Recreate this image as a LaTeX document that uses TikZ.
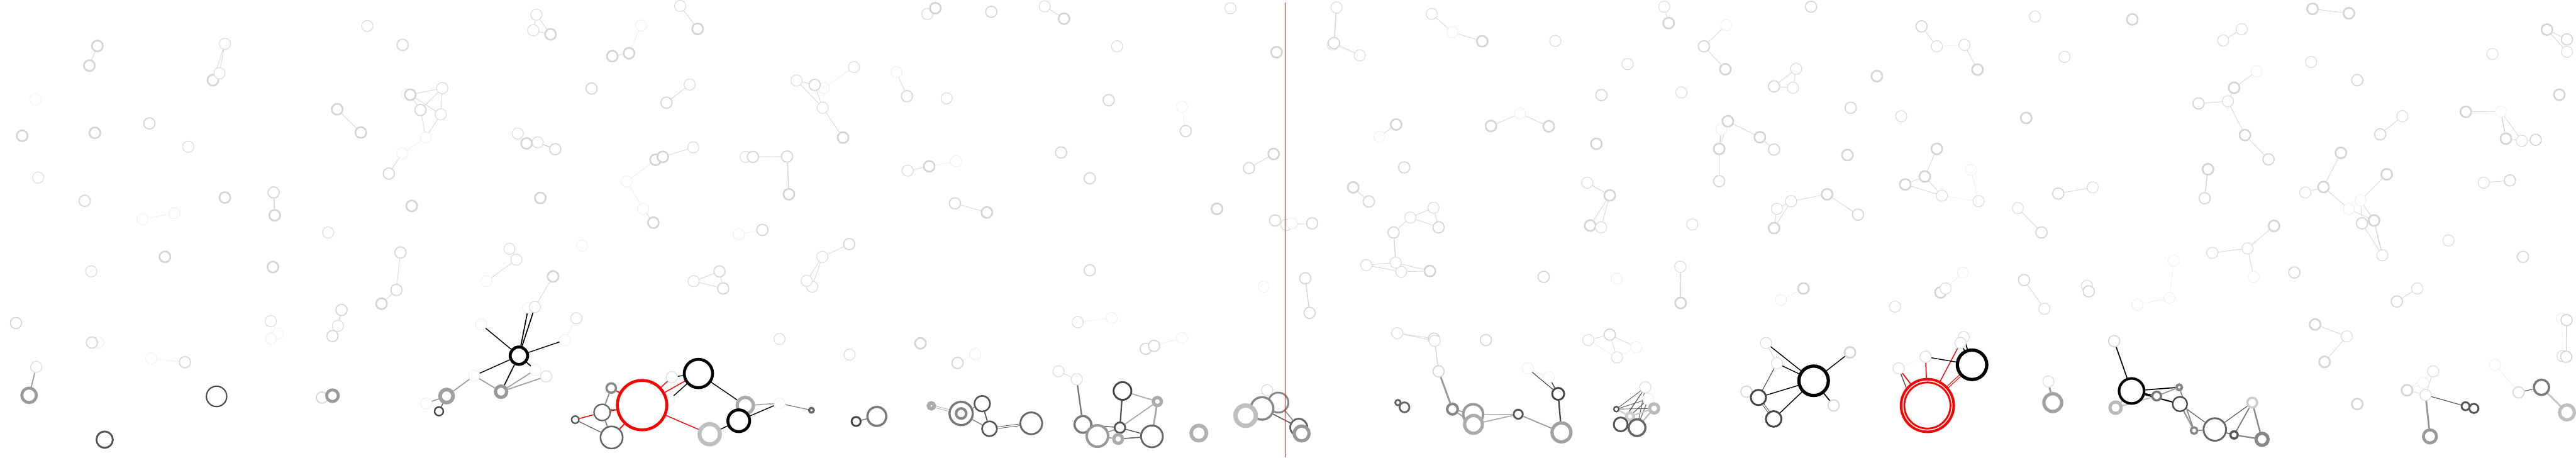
\documentclass[tikz,border=0pt]{standalone}
\pgfdeclarelayer{back}
\pgfdeclarelayer{bg}
\pgfsetlayers{back,bg,main}
\tikzset{
 nd/.style={circle,fill=white,inner sep=0pt,minimum size=31pt},
 vf/.style={nd,draw=black!8,line width=1.3pt},
 lt/.style={nd,draw=black!14,line width=2pt},
 lm/.style={nd,draw=black!16,line width=3pt},
 lk/.style={nd,draw=black!17,line width=4.5pt,minimum size=30pt},
 rg/.style n args={3}{circle,fill=white,inner sep=0pt,draw=#1,line width=#2pt,minimum size=#3pt},
 ef/.style={draw=black!9,line width=1pt},
 el/.style={draw=black!16,line width=1.5pt},
 em/.style={draw=black!17,line width=2.5pt},
 ec/.style 2 args={draw=#1,line width=#2pt},
 dbl/.style 2 args={draw=#1,line width=#2pt,double=white,double distance=3pt},
}
\begin{document}
\begin{tikzpicture}[x=1pt,y=-1pt]
\begin{pgfonlayer}{back}
\useasboundingbox[fill=white] (0,0) rectangle (7072,1251);
\end{pgfonlayer}
% ---- zone 1
\node[lk] (a1) at (268,120) {};
\node[lk] (a2) at (246,174) {};
\node[lk] (a3) at (586,214) {};
\node[vf] (a4) at (98,267) {};
\node[lk] (a5) at (61,367) {};
\node[lk] (a6) at (261,359) {};
\node[lm] (a7) at (411,333) {};
\node[lt] (a8) at (518,397) {};
\node[lt] (a9) at (105,482) {};
\node[lm] (a10) at (233,546) {};
\node[vf] (a11) at (392,597) {};
\node[vf] (a12) at (480,580) {};
\node[lk] (a13) at (454,700) {};
\node[lt] (a14) at (251,740) {};
\node[lm] (a15) at (44,882) {};
\node[vf] (a17) at (270,936) {};
\node[lm] (a16) at (253,936) {};
\node[vf] (a18) at (416,980) {};
\node[lm] (a19) at (509,990) {};
\node[lt] (a20) at (100,1003) {};
\node[rg={black!40}{8}{40}] (B1) at (80,1081) {};
\node[rg={black!73}{3.5}{56}] (B2) at (596,1084) {};
\node[rg={black!67}{5}{45}] (B3) at (288,1203) {};
% ---- zone 2
\node[lt] (b1) at (619,114) {};
\node[lt] (b2) at (604,195) {};
\node[lt] (b3) at (1011,65) {};
\node[lm] (b4) at (1108,117) {};
\node[lk] (b5) at (928,294) {};
\node[lk] (b6) at (993,358) {};
\node[vf] (c1) at (1120,253) {};
\node[lk] (c2) at (1129,254) {};
\node[lm] (c3) at (1157,296) {};
\node[vf] (c4) at (1172,372) {};
\node[vf] (c5) at (1107,415) {};
\node[lm] (c6) at (1070,471) {};
\node[lt] (c7) at (1217,236) {};
\node[lt] (c8) at (1213,308) {};
\node[lk] (b7) at (619,537) {};
\node[lm] (b8) at (753,523) {};
\node[lk] (b9) at (756,586) {};
\node[lt] (b10) at (903,633) {};
\node[lk] (b11) at (1133,560) {};
\node[lk] (b12) at (751,728) {};
\node[lm] (b13) at (1102,688) {};
\node[lm] (b14) at (1091,791) {};
\node[lk] (b15) at (1050,829) {};
\node[lt] (b16) at (745,877) {};
\node[vf] (b17) at (765,911) {};
\node[vf] (b18) at (746,925) {};
\node[lm] (b19) at (940,846) {};
\node[lt] (b20) at (930,890) {};
\node[lm] (b21) at (915,918) {};
\node[lm] (b22) at (886,1087) {};
\node[rg={black!40}{8}{32}] (B4) at (915,1082) {};
% ---- zone 3
\node[lt] (d1) at (1476,34) {};
\node[lt] (d2) at (1468,77) {};
\node[lk] (d3) at (1515,88) {};
\node[vf] (d4) at (1764,64) {};
\node[lk] (d5) at (1731,140) {};
\node[lk] (d6) at (1685,148) {};
\node[lm] (d7) at (1628,237) {};
\node[lt] (d8) at (1425,361) {};
\node[lt] (d10) at (1480,385) {};
\node[lk] (d9) at (1449,388) {};
\node[lm] (d11) at (1528,404) {};
\node[lk] (d12) at (1487,538) {};
\node[vf] (d13) at (1725,493) {};
\node[vf] (d14) at (1770,568) {};
\node[lk] (d15) at (1798,606) {};
\node[lt] (d16) at (1402,678) {};
\node[lt] (d17) at (1421,708) {};
\node[vf] (d18) at (1339,767) {};
\node[vf] (d19) at (1602,669) {};
\node[vf] (B8) at (1305,1027) {};
\node[vf] (B9) at (1473,1011) {};
\node[lt] (B10) at (1503,1029) {};
\node[vf] (B11) at (1555,929) {};
\node[lt] (B12) at (1586,869) {};
\node[vf] (B13) at (1324,886) {};
\node[vf] (B14) at (1454,840) {};
\node[lt] (B15) at (1472,838) {};
\node[lk] (B16) at (1522,754) {};
\node[vf] (B17) at (1173,1103) {};
\node[rg={black}{8}{48}] (S) at (1428,972) {};
\node[rg={black!38}{10}{36}] (B5) at (1229,1083) {};
\node[rg={black!40}{9}{31}] (B6) at (1379,1071) {};
\node[rg={black!73}{4}{24}] (B7) at (1208,1125) {};
% red cluster
\node[rg={black!67}{4}{20}] (R1) at (1583,1148) {};
\node[rg={black!60}{4}{45}] (R2) at (1657,1128) {};
\node[rg={black!47}{6}{26}] (R3) at (1682,1061) {};
\node[rg={black!60}{4.5}{61}] (R4) at (1683,1197) {};
\node[vf] (R6) at (1842,1093) {};
\node[rg={red}{8}{136}] (RED) at (1767,1108) {};
\node[lt] (R5) at (1849,1031) {};
\node[rg={black}{8}{78}] (BK1) at (1922,1021) {};
\node[rg={black!25}{11}{56}] (R7) at (1953,1188) {};
\node[rg={black!33}{9}{45}] (R8) at (2051,1109) {};
\node[rg={black}{8}{60}] (BK2) at (2033,1151) {};
\node[vf] (R9) at (2145,1103) {};
\node[rg={black!60}{6}{13}] (R10) at (2233,1122) {};
\node[rg={black!73}{5}{25}] (R11) at (2356,1153) {};
\node[rg={black!53}{6}{52}] (R12) at (2413,1139) {};
% ---- zone 4
\node[lk] (e1) at (1804,433) {};
\node[lk] (e2) at (1824,425) {};
\node[lt] (e3) at (1908,399) {};
\node[lt] (e4) at (1872,10) {};
\node[lk] (e5) at (1920,73) {};
\node[lt] (e6) at (1898,226) {};
\node[lm] (e7) at (1834,276) {};
\node[lt] (e8) at (2192,215) {};
\node[vf] (e10) at (2267,236) {};
\node[lm] (e9) at (2242,227) {};
\node[lt] (e11) at (2264,290) {};
\node[lk] (e12) at (2320,372) {};
\node[lt] (e13) at (2350,178) {};
\node[lt] (e14) at (2052,425) {};
\node[lm] (e15) at (2072,425) {};
\node[lm] (e16) at (2166,424) {};
\node[lk] (e17) at (2171,528) {};
\node[vf] (e18) at (2033,638) {};
\node[lm] (e19) at (2098,626) {};
\node[lt] (e20) at (1909,767) {};
\node[lm] (e21) at (1980,740) {};
\node[lm] (e22) at (1990,787) {};
\node[lt] (e23) at (2263,700) {};
\node[lm] (e24) at (2337,665) {};
\node[lt] (e26) at (2235,782) {};
\node[lt] (e25) at (2220,766) {};
\node[lt] (e27) at (2145,926) {};
\node[lt] (e28) at (2338,969) {};
% ---- zone 5
\node[lt] (f1) at (2552,32) {};
\node[lk] (f2) at (2574,16) {};
\node[lm] (f3) at (2728,26) {};
\node[lt] (f4) at (2875,11) {};
\node[lk] (f5) at (2928,45) {};
\node[vf] (f6) at (2467,192) {};
\node[lm] (f7) at (2496,258) {};
\node[lt] (f8) at (2605,264) {};
\node[lm] (f9) at (2920,413) {};
\node[lt] (f10) at (2498,463) {};
\node[lk] (f11) at (2557,451) {};
\node[vf] (f12) at (2631,437) {};
\node[lm] (f13) at (2628,553) {};
\node[lk] (f14) at (2716,578) {};
\node[lk] (f15) at (2533,938) {};
\node[lm] (f16) at (2635,992) {};
\node[vf] (f17) at (2684,968) {};
\node[lt] (f18) at (2913,1015) {};
\node[rg={black!33}{10}{16}] (C1) at (2563,1110) {};
\node[rg={black!53}{6}{64}] (C2) at (2645,1131) {};
\node[rg={black!47}{7}{28}] (C2b) at (2645,1131) {};
\node[rg={black!67}{4.5}{43}] (C3) at (2703,1104) {};
\node[rg={black!67}{4.5}{41}] (C4) at (2723,1173) {};
\node[rg={black!60}{5}{60}] (C5) at (2838,1158) {};
% ---- zone 6
\node[lt] (g1) at (3386,16) {};
\node[lt] (g2) at (3074,121) {};
\node[lk] (g3) at (3513,137) {};
\node[lm] (g4) at (3051,269) {};
\node[vf] (g5) at (3253,287) {};
\node[lm] (g6) at (3263,354) {};
\node[lk] (g7) at (3505,417) {};
\node[lm] (g8) at (3437,456) {};
\node[lm] (g9) at (2999,484) {};
\node[lk] (g10) at (3349,568) {};
\node[lm] (g11) at (3509,600) {};
\node[lt] (g12) at (3540,612) {};
\node[vf] (g13) at (3555,608) {};
\node[lm] (g14) at (3611,608) {};
\node[lm] (g15) at (2999,737) {};
\node[vf] (g16) at (3477,782) {};
\node[lt] (g17) at (2966,880) {};
\node[vf] (g18) at (3059,868) {};
\node[lm] (g19) at (3153,953) {};
\node[lm] (g20) at (3176,945) {};
\node[vf] (g21) at (3253,923) {};
\node[lt] (D1) at (2963,1037) {};
\node[rg={black!53}{6}{46}] (D2) at (2980,1161) {};
\node[rg={black!73}{5}{49}] (D3) at (3089,1069) {};
\node[rg={black!33}{9}{22}] (D4) at (3185,1098) {};
\node[rg={black!67}{5}{29}] (D5) at (3082,1170) {};
\node[rg={black!40}{7}{59}] (D6) at (3020,1193) {};
\node[rg={black!33}{9}{24}] (D7) at (3077,1201) {};
\node[rg={black!60}{5}{60}] (D8) at (3170,1194) {};
\node[rg={black!31}{10}{42}] (D9) at (3299,1185) {};
\node[lt] (D13) at (3487,1067) {};
\node[rg={black!47}{5}{55}] (D12) at (3518,1101) {};
\node[rg={black!47}{6}{62}] (D11) at (3473,1117) {};
\node[rg={black!25}{12}{56}] (D10) at (3428,1137) {};
\node[rg={black!60}{5}{47}] (D14) at (3574,1169) {};
\node[rg={black!40}{9}{41}] (D15) at (3582,1186) {};
% ---- zone 7
\node[lt] (h1) at (3678,14) {};
\node[lt] (h2) at (3668,116) {};
\node[lm] (h3) at (3671,112) {};
\node[lt] (h4) at (3742,146) {};
\node[lt] (h5) at (3940,32) {};
\node[vf] (h6) at (3997,82) {};
\node[lk] (h7) at (4079,107) {};
\node[lk] (h8) at (3842,336) {};
\node[vf] (h9) at (3796,369) {};
\node[lk] (h10) at (4103,340) {};
\node[vf] (h11) at (4183,306) {};
\node[lk] (h12) at (4262,341) {};
\node[lm] (h13) at (3864,454) {};
\node[lk] (h14) at (3724,509) {};
\node[lm] (h15) at (3767,548) {};
\node[lt] (h16) at (3945,565) {};
\node[lt] (h17) at (3881,592) {};
\node[lm] (h18) at (3959,619) {};
\node[lm] (h19) at (3835,633) {};
\node[lt] (h22) at (3856,741) {};
\node[lt] (h20) at (3841,716) {};
\node[lt] (h21) at (3760,723) {};
\node[lk] (h23) at (3935,739) {};
\node[lm] (h24) at (3592,759) {};
\node[lm] (h25) at (3604,854) {};
\node[lt] (h26) at (3845,910) {};
\node[lm] (h27) at (3946,925) {};
\node[lt] (h28) at (3948,931) {};
\node[lm] (h29) at (4089,929) {};
\node[lm] (E3) at (3959,1015) {};
\node[rg={black!60}{5}{15}] (E1) at (3847,1101) {};
\node[rg={black!60}{5}{27}] (E2) at (3865,1114) {};
\node[rg={black!47}{7}{29}] (E4) at (3997,1119) {};
\node[rg={black!40}{7}{55}] (E5) at (4054,1133) {};
\node[rg={black!33}{9}{49}] (E6) at (4055,1161) {};
\node[rg={black!67}{5}{25}] (E7) at (4178,1133) {};
\node[vf] (E10) at (4204,1007) {};
\node[vf] (E11) at (4262,1031) {};
\node[rg={black!73}{5}{33}] (E8) at (4288,1077) {};
\node[rg={black!37}{9}{52}] (E9) at (4297,1183) {};
% ---- zone 8
\node[lt] (i1) at (4580,12) {};
\node[lk] (i2) at (4592,57) {};
\node[lm] (i3) at (4689,121) {};
\node[lt] (i4) at (4280,106) {};
\node[lt] (i5) at (4479,170) {};
\node[lm] (i6) at (4407,255) {};
\node[lt] (i7) at (4627,248) {};
\node[lk] (i8) at (4393,389) {};
\node[lt] (i9) at (4368,496) {};
\node[lk] (i10) at (4430,531) {};
\node[lk] (i11) at (4376,614) {};
\node[lt] (i12) at (4406,619) {};
\node[lt] (i13) at (4657,611) {};
\node[lm] (i14) at (4248,755) {};
\node[vf] (i15) at (4449,760) {};
\node[lt] (i16) at (4624,727) {};
\node[lk] (i17) at (4625,827) {};
\node[lt] (i18) at (4371,929) {};
\node[lm] (i19) at (4430,914) {};
\node[vf] (i20) at (4503,949) {};
\node[lt] (i21) at (4450,977) {};
\node[lt] (F1) at (4528,1059) {};
\node[vf] (F2) at (4536,1091) {};
\node[rg={black!27}{9}{25}] (F3) at (4552,1117) {};
\node[rg={black!67}{4}{14}] (F4) at (4448,1119) {};
\node[rg={black!20}{8}{20}] (F5) at (4486,1139) {};
\node[rg={black!67}{5}{38}] (F6) at (4460,1161) {};
\node[rg={black!60}{6}{46}] (F7) at (4505,1170) {};
% ---- zone 9
\node[vf] (j1) at (4750,63) {};
\node[lk] (j2) at (4748,184) {};
\node[lm] (j3) at (4984,12) {};
\node[lm] (j4) at (5288,66) {};
\node[lt] (j5) at (4943,183) {};
\node[lm] (j6) at (4882,231) {};
\node[lt] (j7) at (4934,235) {};
\node[lk] (j8) at (5165,203) {};
\node[lm] (j9) at (5093,290) {};
\node[lt] (j10) at (5232,313) {};
\node[lk] (j11) at (5084,420) {};
\node[vf] (j12) at (4737,349) {};
\node[lk] (j13) at (4755,327) {};
\node[lk] (j14) at (4731,403) {};
\node[lm] (j15) at (4731,492) {};
\node[lk] (j16) at (4843,371) {};
\node[lm] (j17) at (4882,405) {};
\node[lk] (j18) at (5297,479) {};
\node[lk] (j19) at (5243,501) {};
\node[lt] (j20) at (4929,547) {};
\node[lt] (j21) at (4890,568) {};
\node[lk] (j22) at (4882,621) {};
\node[lk] (j23) at (5028,528) {};
\node[lm] (j24) at (5113,584) {};
\node[lk] (j25) at (4963,787) {};
\node[vf] (j26) at (4901,819) {};
\node[lt] (j27) at (5215,837) {};
\node[lt] (k1) at (5330,121) {};
\node[lt] (k2) at (5406,117) {};
\node[lk] (k3) at (5442,185) {};
\node[lk] (k4) at (5330,403) {};
\node[lt] (k5) at (5344,532) {};
\node[vf] (k6) at (5424,461) {};
\node[lt] (k7) at (5445,547) {};
\node[lt] (G1) at (4860,937) {};
\node[lt] (G2) at (4890,993) {};
\node[lm] (G3) at (4806,1071) {};
\node[rg={black!73}{5}{42}] (G4) at (4839,1087) {};
\node[rg={black!73}{5}{43}] (G5) at (4881,1146) {};
\node[lk] (G6) at (5091,963) {};
\node[lm] (G7) at (5046,1109) {};
\node[rg={black}{9}{81}] (G0) at (4991,1041) {};
\node[lt] (H1) at (5225,1007) {};
\node[lt] (H2) at (5299,975) {};
\node[lt] (H4) at (5404,921) {};
\node[lt] (H3) at (5395,937) {};
\node[rg={red}{7}{145}] (RR) at (5304,1109) {};
\node[rg={red}{5}{127}] (RRi) at (5304,1109) {};
\node[rg={black}{9}{81}] (H5) at (5427,997) {};
% ---- zone 10
\node[lt] (k8) at (5600,39) {};
\node[lk] (k9) at (5868,47) {};
\node[lt] (k10) at (5681,150) {};
\node[lk] (k11) at (5576,318) {};
\node[lm] (k12) at (5664,526) {};
\node[lt] (k13) at (5759,509) {};
\node[lt] (k14) at (5553,566) {};
\node[lm] (k15) at (5618,633) {};
\node[lk] (k16) at (5340,798) {};
\node[lt] (k17) at (5354,787) {};
\node[vf] (k18) at (5402,743) {};
\node[lm] (k19) at (5570,764) {};
\node[lt] (k20) at (5626,843) {};
\node[lt] (k21) at (5743,780) {};
\node[lm] (k22) at (5748,795) {};
\node[vf] (k23) at (5882,832) {};
\node[lt] (I1) at (5637,1043) {};
\node[rg={black!37}{9}{49}] (I2) at (5649,1101) {};
\node[lm] (J1) at (5818,932) {};
\node[rg={black!27}{9}{31}] (J3) at (5822,1115) {};
\node[rg={black}{7}{69}] (J2) at (5866,1069) {};
% ---- zone 11
\node[lt] (l1) at (6169,74) {};
\node[lt] (l2) at (6118,105) {};
\node[lk] (l3) at (6364,18) {};
\node[lk] (l4) at (6464,30) {};
\node[lt] (l5) at (6360,164) {};
\node[lm] (l6) at (6487,214) {};
\node[vf] (l7) at (6210,190) {};
\node[lk] (l8) at (6148,235) {};
\node[lt] (l9) at (6131,272) {};
\node[lm] (l10) at (6050,278) {};
\node[lk] (l11) at (6178,365) {};
\node[lm] (l12) at (6243,432) {};
\node[lk] (l13) at (6076,459) {};
\node[lm] (l14) at (6067,539) {};
\node[lk] (l15) at (6442,414) {};
\node[lk] (l16) at (6394,508) {};
\node[lt] (l17) at (6344,523) {};
\node[vf] (l18) at (6464,569) {};
\node[lk] (l19) at (6258,615) {};
\node[lt] (l20) at (6185,677) {};
\node[lt] (l21) at (6088,689) {};
\node[vf] (l22) at (6202,755) {};
\node[vf] (l23) at (5982,710) {};
\node[vf] (l24) at (5970,813) {};
\node[lm] (l25) at (6314,743) {};
\node[lk] (l26) at (6371,886) {};
\node[lt] (l27) at (6458,919) {};
\node[lk] (l28) at (6397,989) {};
\node[lk] (l29) at (6487,1105) {};
\node[rg={black!53}{6}{24}] (K1) at (5935,1083) {};
\node[rg={black!47}{7}{15}] (K2) at (5997,1059) {};
\node[rg={black!73}{4}{40}] (K3) at (5999,1105) {};
\node[rg={black!47}{6}{18}] (K4) at (6038,1178) {};
\node[rg={black!60}{5}{62}] (K5) at (6095,1175) {};
\node[rg={black!67}{6}{20}] (K6) at (6148,1190) {};
\node[rg={black!47}{9}{33}] (K7) at (6225,1202) {};
\node[rg={black!20}{6}{27}] (K8) at (6198,1101) {};
% ---- zone 12
\node[vf] (m1) at (6496,545) {};
\node[lk] (m2) at (6568,473) {};
\node[lm] (m4) at (6500,608) {};
\node[lk] (m3) at (6533,600) {};
\node[lt] (m5) at (6556,696) {};
\node[lk] (m6) at (7009,75) {};
\node[lm] (m7) at (7064,102) {};
\node[lt] (m8) at (7064,136) {};
\node[lt] (m9) at (6859,142) {};
\node[lk] (m10) at (7043,254) {};
\node[lt] (m11) at (6611,313) {};
\node[lm] (m12) at (6550,363) {};
\node[lk] (m13) at (6786,301) {};
\node[vf] (m14) at (6882,300) {};
\node[lk] (m15) at (6896,375) {};
\node[lt] (m16) at (6940,381) {};
\node[lm] (m17) at (6978,378) {};
\node[lt] (m18) at (6835,496) {};
\node[lm] (m19) at (6907,490) {};
\node[lt] (m20) at (6738,655) {};
\node[lm] (m21) at (6943,700) {};
\node[lt] (m22) at (6652,787) {};
\node[lm] (m23) at (6596,823) {};
\node[vf] (m24) at (7050,870) {};
\node[lm] (m25) at (7063,874) {};
\node[lt] (m26) at (7052,973) {};
\node[lm] (m27) at (7062,975) {};
\node[lk] (L1) at (6624,1067) {};
\node[vf] (L2) at (6669,1047) {};
\node[lt] (L3) at (6696,1015) {};
\node[lt] (L4) at (6675,1080) {};
\node[rg={black!40}{8}{36}] (L5) at (6687,1194) {};
\node[rg={black!67}{5}{22}] (L6) at (6785,1111) {};
\node[rg={black!67}{5}{25}] (L7) at (6808,1117) {};
\node[vf] (M1) at (6866,997) {};
\node[lm] (M2) at (6931,1073) {};
\node[rg={black!53}{6}{42}] (M3) at (6994,1059) {};
\node[rg={black!25}{9}{41}] (M4) at (7064,1128) {};
% red divider
\coordinate (rt) at (3536,0);
\coordinate (rb) at (3536,1251);
\draw[red,line width=1.6pt] (rt) -- (rb);
\begin{pgfonlayer}{bg}
% zone 1
\draw[el] (a1) -- (a2);
\draw[ef] (a11) -- (a12);
\draw[ef] (a18) -- (a19);
\draw[ec={black!40}{3}] (a20) -- (B1);
% zone 2
\draw[el] (b1) -- (a3); \draw[el] (b1) -- (b2);
\draw[el] (b5) -- (b6);
\draw[el] (c2) -- (c7); \draw[el] (c3) -- (c7); \draw[el] (c2) -- (c8);
\draw[el] (c7) -- (c8); \draw[el] (c4) -- (c8); \draw[el] (c3) -- (c4);
\draw[ef] (c4) -- (c5); \draw[el] (c5) -- (c6); \draw[el] (c2) -- (c3);
\draw[em] (b8) -- (b9);
\draw[el] (b13) -- (b14); \draw[el] (b14) -- (b15);
\draw[ef] (b16) -- (b17); \draw[ef] (b16) -- (b18);
\draw[em] (b19) -- (b20); \draw[el] (b20) -- (b21);
\draw[el] (b22) -- (B4);
% zone 3
\draw[el] (d1) -- (d2); \draw[el] (d1) -- (d3); \draw[el] (d2) -- (d3);
\draw[ef] (d4) -- (d5); \draw[el] (d5) -- (d6);
\draw[el] (d9) -- (d10); \draw[em] (d10) -- (d11);
\draw[ef] (d13) -- (e1); \draw[el] (e2) -- (e3);
\draw[ef] (d13) -- (d14); \draw[el] (d14) -- (d15);
\draw[el] (d17) -- (d18);
\draw[el] (B16) -- (B15);
\draw[ef] (B11) -- (B12);
\draw[ec={black}{2.5}] (S) -- (B13);
\draw[ec={black}{3}] (S) -- (B14);
\draw[ec={black}{3}] (S) -- (B15);
\draw[ec={black}{2.5}] (S) -- (B11);
\draw[ec={black}{3}] (S) -- (B9);
\draw[ec={black}{2.5}] (S) -- (B8);
\draw[ec={black}{3}] (S) -- (B6);
\draw[ec={black!38}{3}] (B8) -- (B5);
\draw[ec={black!38}{3}] (B8) -- (B6);
\draw[ec={black!38}{3}] (B6) -- (B9);
\draw[ec={black!38}{3}] (B6) -- (B10);
\draw[ec={black!38}{3}] (B17) -- (B5);
\draw[ec={black!73}{2}] (B7) -- (B5);
% red cluster
\draw[ec={red}{2.5}] (R1) -- (R2);
\draw[ec={black!67}{2}] (R1) -- (R4);
\draw[ec={black!47}{3}] (R2) -- (R3);
\draw[ec={red}{3}] (R2) -- (RED);
\draw[ec={black!60}{2}] (R2.20) -- (RED.190);
\draw[ec={red}{3}] (R3) -- (RED);
\draw[ec={black!60}{2.5}] (R2) -- (R4);
\draw[ec={red}{3}] (R4) -- (RED);
\draw[ef] (R5) -- (R6);
\draw[ec={red}{2.5}] (R5) -- (RED);
\draw[ec={black}{2.5}] (R5) -- (BK1);
\draw[ec={black}{2.5}] (R6) -- (BK1);
\draw[ec={red}{2.5}] (RED) -- (BK1);
\draw[ec={red}{2.5}] (RED) -- (R7);
\draw[ec={black}{2.5}] (R7) -- (BK2);
\draw[ec={black}{2.5}] (BK1) -- (R8);
\draw[ec={black}{2.5}] (BK2) -- (R9);
\draw[ec={black!33}{3}] (R8) -- (R9);
\draw[ec={black!53}{2}] (R9) -- (R10);
\draw[ec={black!53}{2.5}] (R11) -- (R12);
% zone 4
\draw[el] (e4) -- (e5); \draw[el] (e6) -- (e7);
\draw[el] (e8) -- (e9); \draw[el] (e8) -- (e11); \draw[el] (e9) -- (e11);
\draw[ef] (e10) -- (e11); \draw[ef] (e10) -- (e13); \draw[el] (e11) -- (e12);
\draw[el] (e15) -- (e16); \draw[em] (e16) -- (e17);
\draw[ef] (e18) -- (e19);
\draw[el] (e20) -- (e21); \draw[el] (e20) -- (e22); \draw[el] (e21) -- (e22);
\draw[el] (e23) -- (e24); \draw[el] (e23) -- (e25); \draw[el] (e23) -- (e26);
% zone 5
\draw[el] (f4) -- (f5); \draw[el] (f6) -- (f7);
\draw[el] (f10) -- (f11); \draw[ef] (f11) -- (f12);
\draw[el] (f13) -- (f14); \draw[ef] (f16) -- (f17);
\draw[el] (f18) -- (D1);
\draw[dbl={black!33}{1.5}] (C1) -- (C2);
\draw[ec={black!53}{2.5}] (C2) -- (C3);
\draw[ec={black!47}{2.5}] (C2) -- (C4);
\draw[ec={black!67}{3}] (C3) -- (C4);
\draw[dbl={black!67}{1.5}] (C4) -- (C5);
% zone 6
\draw[ef] (g5) -- (g6); \draw[el] (g7) -- (g8);
\draw[el] (g12) -- (g14); \draw[ef] (g13) -- (g14);
\draw[ef] (g17) -- (g18); \draw[ef] (g20) -- (g21);
\draw[ec={black!53}{4}] (D1) -- (D2);
\draw[ec={black!33}{3}] (D3) -- (D4);
\draw[ec={black!67}{4}] (D3) -- (D5);
\draw[ec={black!33}{3}] (D5) -- (D4);
\draw[ec={black!33}{5}] (D4) -- (D8);
\draw[ec={black!67}{2.5}] (D5) -- (D8);
\draw[ec={black!60}{2.5}] (D2) -- (D5);
\draw[ec={black!40}{3}] (D6) -- (D5);
\draw[ec={black!60}{3}] (D7) -- (D8);
\draw[ec={black!40}{3}] (D6) -- (D7);
\draw[ec={black!60}{3}] (D11) -- (D14);
\draw[ec={black!47}{2.5}] (D12) -- (D14);
% zone 7
\draw[em] (h1) -- (h3); \draw[el] (h3) -- (h4); \draw[ef] (h2) -- (h4);
\draw[el] (h5) -- (h6); \draw[el] (h6) -- (h7);
\draw[el] (h8) -- (h9);
\draw[el] (h10) -- (h11); \draw[el] (h11) -- (h12);
\draw[el] (h14) -- (h15);
\draw[el] (h17) -- (h16); \draw[el] (h17) -- (h18); \draw[el] (h16) -- (h18);
\draw[el] (h17) -- (h19); \draw[em] (h19) -- (h20);
\draw[el] (h21) -- (h20); \draw[el] (h21) -- (h22);
\draw[el] (h20) -- (h23); \draw[el] (h22) -- (h23);
\draw[em] (h24) -- (h25);
\draw[el] (h26) -- (h27); \draw[el] (h26) -- (h28);
\draw[em] (h28) -- (E3);
\draw[ec={black!40}{5}] (E3) -- (E4);
\draw[ec={black!40}{3}] (E4) -- (E5);
\draw[ec={black!40}{3}] (E4) -- (E6);
\draw[ec={black!40}{3}] (E5) -- (E7);
\draw[ec={black!33}{3}] (E6) -- (E7);
\draw[ec={black!40}{3}] (E7) -- (E9);
\draw[ec={black!73}{2}] (E10) -- (E8);
\draw[ec={black!73}{2.5}] (E11) -- (E8);
\draw[ef] (E10) -- (E11);
\draw[ec={black!73}{4}] (E8) -- (E9);
% zone 8
\draw[el] (i1) -- (i2);
\draw[el] (i3) -- (j1); \draw[el] (i3) -- (j2);
\draw[el] (i9) -- (i10); \draw[el] (i10) -- (i11); \draw[el] (i10) -- (i12);
\draw[em] (i16) -- (i17);
\draw[el] (i18) -- (i19); \draw[ef] (i18) -- (i21); \draw[el] (i19) -- (i21);
\draw[el] (i19) -- (i20); \draw[ef] (i21) -- (i20);
\draw[ec={black!67}{1.5}] (F4) -- (F1);
\draw[ec={black!67}{1.5}] (F4) -- (F2);
\draw[ec={black!67}{1.5}] (F4) -- (F3);
\draw[ec={black!67}{2}] (F6) -- (F1);
\draw[ec={black!60}{2}] (F6) -- (F2);
\draw[ec={black!60}{2}] (F7) -- (F1);
\draw[ec={black!60}{2}] (F7) -- (F2);
\draw[ec={black!27}{4}] (F7) -- (F3);
\draw[ec={black!20}{4}] (F4) -- (F5);
\draw[ec={black!20}{4}] (F5) -- (F3);
% zone 9
\draw[el] (j4) -- (k1); \draw[ef] (k1) -- (k2); \draw[el] (k2) -- (k3);
\draw[el] (j5) -- (j6); \draw[el] (j6) -- (j7); \draw[el] (j5) -- (j7);
\draw[el] (j13) -- (j16); \draw[el] (j16) -- (j17);
\draw[em] (j12) -- (j14); \draw[el] (j13) -- (j14); \draw[em] (j14) -- (j15);
\draw[el] (j19) -- (j18); \draw[el] (j18) -- (k4); \draw[el] (j18) -- (k5);
\draw[el] (j19) -- (k5); \draw[ef] (k5) -- (k7); \draw[ef] (k6) -- (k7);
\draw[el] (j20) -- (j23); \draw[el] (j23) -- (j24); \draw[el] (j21) -- (j20);
\draw[el] (j20) -- (j22); \draw[el] (j21) -- (j22);
\draw[ef] (j25) -- (j26);
\draw[ec={black}{2.5}] (G0) -- (G1);
\draw[ec={black}{2.5}] (G0) -- (G2);
\draw[ec={black}{2.5}] (G0) -- (G4);
\draw[ec={black}{2.5}] (G0) -- (G5);
\draw[ec={black}{2.5}] (G0) -- (G6);
\draw[ec={black}{3}] (G0) -- (G7);
\draw[el] (G1) -- (G2);
\draw[ec={black!67}{2}] (G2) -- (G4);
\draw[dbl={black!73}{1.5}] (G4) -- (G5);
\draw[ef] (H1) -- (H2);
\draw[ec={red}{3}] (H1) -- (RR);
\draw[ec={black!67}{2.5}] (H1) -- (RR.140);
\draw[ec={red}{3}] (H2) -- (RR);
\draw[ec={red}{2.5}] (H3) -- (RR);
\draw[dbl={red}{2}] (RR) -- (H5);
\draw[ec={black}{2.5}] (H2) -- (H5);
\draw[ec={black}{3}] (H3) -- (H5);
\draw[ec={black}{3}] (H4) -- (H5);
% zone 10
\draw[ec={black!37}{5}] (I1) -- (I2);
\draw[ec={black}{3}] (J1) -- (J2);
\draw[ec={black!27}{3}] (J3) -- (J2);
\draw[ec={black!27}{3}] (J3) -- (K1);
\draw[el] (k12) -- (k13); \draw[el] (k14) -- (k15);
\draw[ef] (k17) -- (k18); \draw[el] (k19) -- (k20);
\draw[ef] (k23) -- (l24);
% zone 11
\draw[el] (l1) -- (l2); \draw[el] (l3) -- (l4);
\draw[el] (l7) -- (l8); \draw[el] (l8) -- (l9); \draw[el] (l9) -- (l10);
\draw[el] (l9) -- (l11); \draw[el] (l11) -- (l12);
\draw[em] (l13) -- (l14);
\draw[el] (l15) -- (l16); \draw[el] (l16) -- (l17); \draw[el] (l16) -- (l18);
\draw[el] (l19) -- (l20); \draw[el] (l20) -- (l21); \draw[el] (l20) -- (l22);
\draw[ef] (l23) -- (l24);
\draw[el] (l26) -- (l27); \draw[el] (l27) -- (l28);
\draw[ec={black}{3}] (J2) -- (K2);
\draw[ec={black}{3.5}] (J2) -- (K3);
\draw[ec={black}{3}] (J2) -- (K1);
\draw[ec={black!47}{2.5}] (K1) -- (K2);
\draw[ec={black!40}{4}] (K3) -- (K4);
\draw[ec={black!67}{2}] (K3) -- (K5);
\draw[ec={black!47}{3}] (K2) -- (K4);
\draw[ec={black!47}{3}] (K4) -- (K5);
\draw[ec={black!67}{2}] (K5) -- (K8);
\draw[ec={black!53}{3}] (K6) -- (K8);
\draw[ec={black!47}{4}] (K8) -- (K7);
\draw[ec={black!47}{4}] (K6) -- (K7);
\draw[ec={black!60}{3}] (K5) -- (K6);
% zone 12
\draw[el] (m1) -- (m2); \draw[el] (m1) -- (m3); \draw[el] (m1) -- (m4);
\draw[el] (l18) -- (m3); \draw[el] (m4) -- (m5); \draw[em] (m3) -- (m5);
\draw[el] (m6) -- (m7); \draw[el] (m6) -- (m8);
\draw[el] (m11) -- (m12);
\draw[el] (m13) -- (m14); \draw[em] (m14) -- (m15); \draw[el] (m14) -- (m16);
\draw[el] (m15) -- (m16); \draw[el] (m16) -- (m17);
\draw[el] (m18) -- (m19);
\draw[el] (m22) -- (m23);
\draw[ef] (m24) -- (m26); \draw[em] (m25) -- (m27);
\draw[ef] (L1) -- (L2); \draw[el] (L1) -- (L4); \draw[ef] (L1) -- (L3);
\draw[ef] (L2) -- (L3); \draw[el] (L4) -- (L3);
\draw[ec={black!40}{5}] (L4) -- (L5);
\draw[ec={black!67}{2}] (L4) -- (L6);
\draw[ef] (M1) -- (M2);
\draw[ec={black!60}{2}] (M2) -- (M3);
\draw[ec={black!22}{5}] (M3) -- (M4);
\end{pgfonlayer}
\end{tikzpicture}
\end{document}
